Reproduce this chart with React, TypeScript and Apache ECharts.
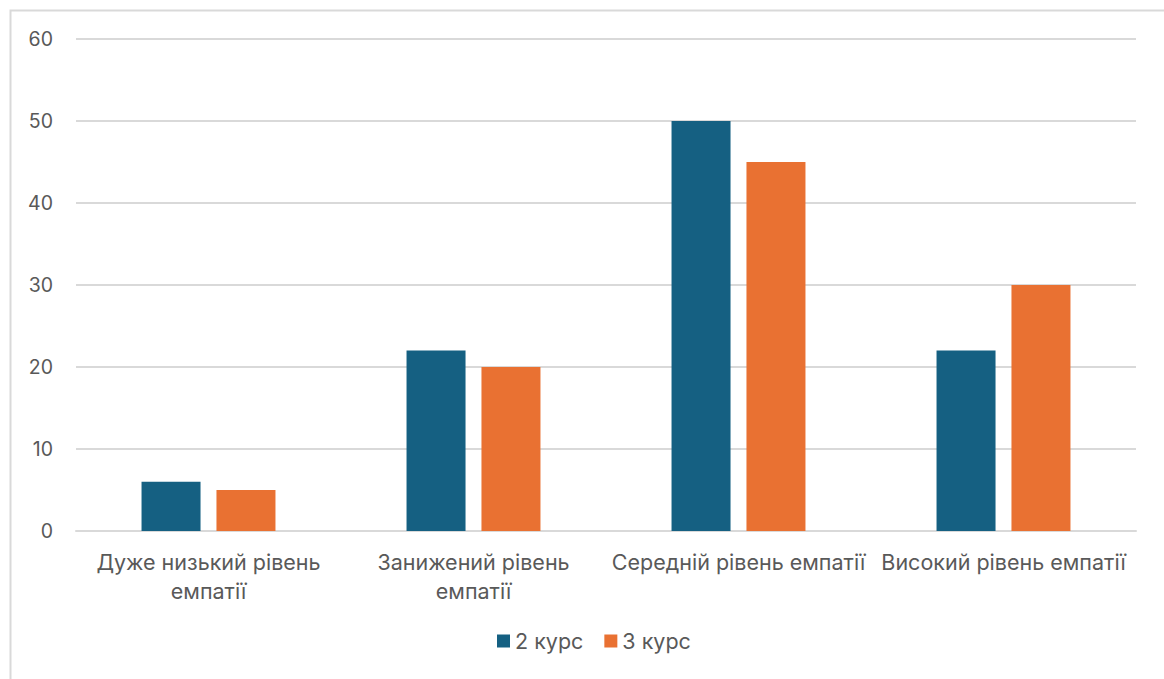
import React, { useEffect, useRef } from "react";
import * as echarts from "echarts";

const categories = [
  "Дуже низький рівень\nемпатії",
  "Занижений рівень\nемпатії",
  "Середній рівень емпатії",
  "Високий рівень емпатії",
];
const course2 = [6, 22, 50, 22];
const course3 = [5, 20, 45, 30];
const seriesNames = ["2 курс", "3 курс"];

const FONT = "Inter, 'Open Sans', sans-serif";
const TEXT = "#595959";

export default function App() {
  const ref = useRef<HTMLDivElement>(null);
  useEffect(() => {
    if (!ref.current) return;
    const chart = echarts.init(ref.current, null, { renderer: "svg" });
    chart.setOption({
      animation: false,
      backgroundColor: "#ffffff",
      graphic: [
        {
          type: "rect",
          shape: { x: 10.5, y: 10.5, width: 1200, height: 700 },
          style: { fill: "none", stroke: "#d9d9d9", lineWidth: 2 },
          silent: true,
        },
      ],
      grid: { left: 76, right: 28, top: 39, bottom: 148 },
      legend: {
        data: seriesNames,
        bottom: 22,
        left: 492,
        itemWidth: 13,
        itemHeight: 13,
        itemGap: 21,
        icon: "rect",
        textStyle: { color: TEXT, fontSize: 21.5, fontFamily: FONT },
      },
      xAxis: {
        type: "category",
        data: categories,
        axisLine: { lineStyle: { color: "#d9d9d9", width: 2 } },
        axisTick: { show: false },
        axisLabel: {
          interval: 0,
          color: TEXT,
          fontSize: 21.5,
          fontFamily: FONT,
          lineHeight: 29,
          margin: 16,
        },
      },
      yAxis: {
        type: "value",
        min: 0,
        max: 60,
        interval: 10,
        axisLine: { show: false },
        axisTick: { show: false },
        splitLine: { lineStyle: { color: "#d9d9d9", width: 2 } },
        axisLabel: { color: TEXT, fontSize: 19.5, fontFamily: FONT, margin: 23 },
      },
      series: [
        {
          name: seriesNames[0],
          type: "bar",
          data: course2,
          barWidth: 59,
          barGap: "27%",
          itemStyle: { color: "#156082" },
        },
        {
          name: seriesNames[1],
          type: "bar",
          data: course3,
          barWidth: 59,
          itemStyle: { color: "#e97132" },
        },
      ],
    });
    return () => chart.dispose();
  }, []);
  return (
    <div
      ref={ref}
      style={{ position: "fixed", left: 0, top: 0, width: 1164, height: 679 }}
    />
  );
}
